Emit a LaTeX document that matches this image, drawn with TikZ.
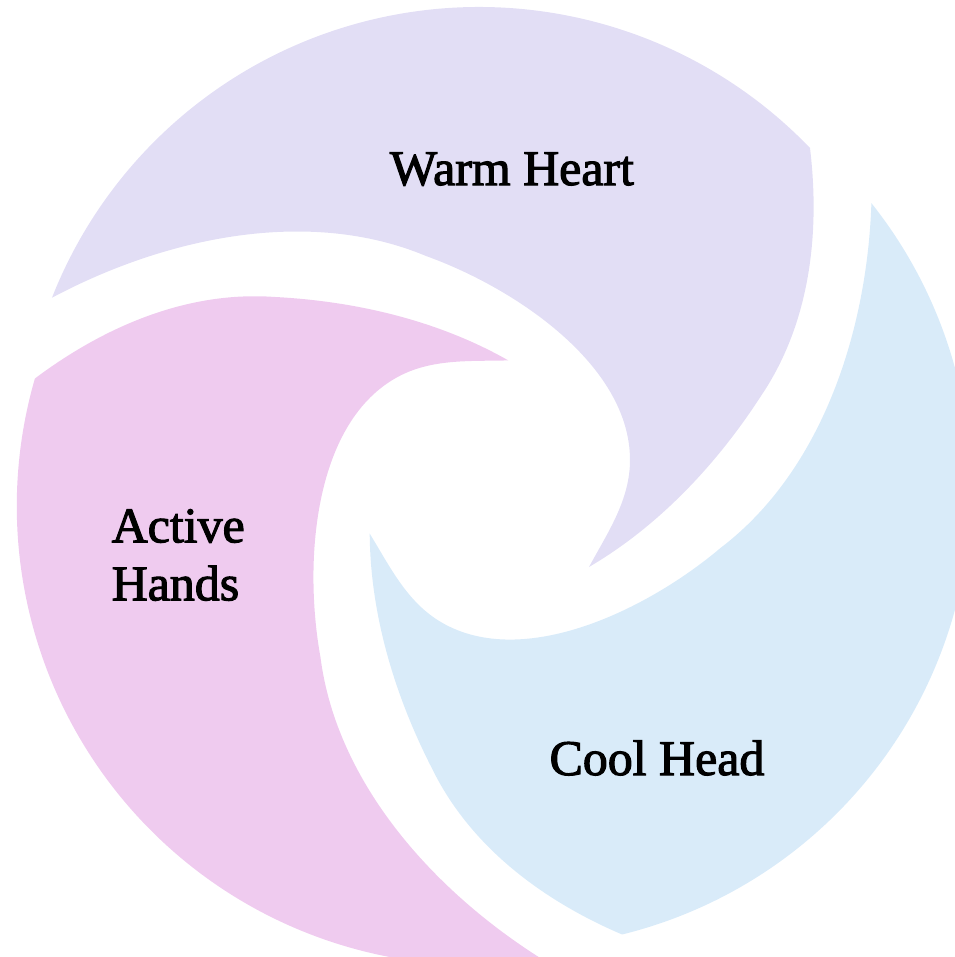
\documentclass[tikz,border=0pt]{standalone}
\usepackage{fontspec}
\newfontfamily\labelfont{Liberation Serif}[FakeBold=2.2]
\definecolor{warmfill}{HTML}{E2DEF5}
\definecolor{activefill}{HTML}{EFCBEF}
\definecolor{coolfill}{HTML}{D9EBF9}

\begin{document}
\begin{tikzpicture}[x=0.1mm, y=0.1mm,
    blade label/.style={font=\labelfont\fontsize{14.2pt}{16.5pt}\selectfont, inner sep=0pt}]
  % frame of the picture, origin at the centre of the swirl (1 unit = 1 px)
  \path[use as bounding box, clip] (-489,-470) rectangle (466,487);

  % one blade: tip -> outer edge -> rim arc -> inner edge -> tip, turned 3 times
  \foreach \ang/\col in {0/warmfill, 120/activefill, 240/coolfill} {
    \fill[\col, rotate=\ang]
      (100,-80) .. controls (170,-39) and (228,23) .. (272,91)
      .. controls (322,165) and (331,256) .. (321,339)
      arc[start angle=43.85, end angle=158.5, radius=459]
      .. controls (-323,250) and (-180,280) .. (-63,231)
      .. controls (26,199) and (141,122) .. (141,27)
      .. controls (141,-13) and (119,-45) .. (100,-80) -- cycle;
  }

  % labels
  \node[blade label, anchor=base] (warm) at (23,302) {Warm Heart};
  \node[blade label, anchor=base] (cool) at (168,-288) {Cool Head};
  \node[blade label, anchor=west, align=left] (active) at (-378,-68) {Active\\Hands};
\end{tikzpicture}
\end{document}
